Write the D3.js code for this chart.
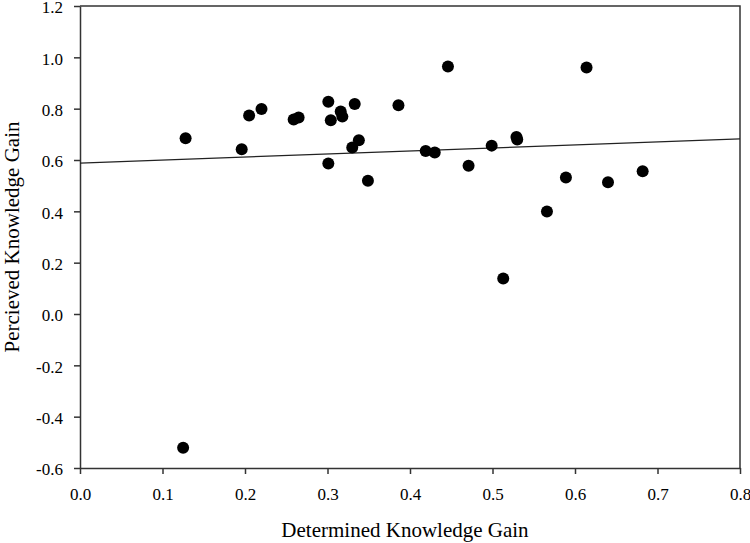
<!DOCTYPE html>
<html>
<head>
<meta charset="utf-8">
<script src="https://cdn.jsdelivr.net/npm/d3@7"></script>
<style>
  body { margin: 0; background: #fff; }
  svg { display: block; }
</style>
</head>
<body>
<script>
    // determined knowledge gain (x) vs percieved knowledge gain (y)
    const determinedGain = [0.125, 0.128, 0.196, 0.205, 0.220, 0.259, 0.265, 0.301, 0.301, 0.304,
        0.316, 0.318, 0.330, 0.333, 0.338, 0.349, 0.386, 0.419, 0.430, 0.446,
        0.471, 0.499, 0.513, 0.529, 0.530, 0.566, 0.589, 0.614, 0.640, 0.682];
    const percievedGain = [-0.521, 0.685, 0.642, 0.773, 0.799, 0.758, 0.766, 0.586, 0.827, 0.755,
        0.789, 0.769, 0.649, 0.818, 0.677, 0.519, 0.813, 0.635, 0.629, 0.964,
        0.578, 0.656, 0.138, 0.690, 0.680, 0.399, 0.532, 0.960, 0.513, 0.556];

    // fitted regression line
    const fitIntercept = 0.588;
    const fitSlope = 0.1175;

    const xTicks = [0.0, 0.1, 0.2, 0.3, 0.4, 0.5, 0.6, 0.7, 0.8];
    const yTicks = [-0.6, -0.4, -0.2, 0.0, 0.2, 0.4, 0.6, 0.8, 1.0, 1.2];

    const svgWidth = 750, svgHeight = 543;
    const plotLeft = 80, plotRight = 740, plotTop = 6, plotBottom = 468;
    const axisColor = "#333";
    const font = "'Liberation Serif', 'Times New Roman', serif";

    const svg = d3.select("body")
        .append("svg")
        .attr("width", svgWidth)
        .attr("height", svgHeight);

    const xScale = d3.scaleLinear().domain([0, 0.8]).range([plotLeft, plotRight]);
    const yScale = d3.scaleLinear().domain([-0.6, 1.2]).range([plotBottom, plotTop]);

    // frame on top and right
    svg.append("path")
        .attr("d", `M${plotLeft},${plotTop}H${plotRight}V${plotBottom}`)
        .attr("fill", "none")
        .attr("stroke", axisColor)
        .attr("stroke-width", 1.5);

    const xAxis = svg.append("g")
        .attr("transform", `translate(0,${plotBottom})`)
        .call(d3.axisBottom(xScale).tickValues(xTicks).tickFormat(d3.format(".1f")).tickSizeInner(6).tickSizeOuter(0).tickPadding(14));

    const yAxis = svg.append("g")
        .attr("transform", `translate(${plotLeft},0)`)
        .call(d3.axisLeft(yScale).tickValues(yTicks).tickFormat(d => d.toFixed(1)).tickSizeInner(6).tickSizeOuter(0).tickPadding(11));

    [xAxis, yAxis].forEach(g => {
        g.select(".domain").attr("stroke", axisColor).attr("stroke-width", 1.5);
        g.selectAll(".tick line").attr("stroke", axisColor).attr("stroke-width", 1.5);
        g.selectAll(".tick text")
            .attr("fill", "#000")
            .style("font-family", font)
            .style("font-size", "17px");
    });
    yAxis.selectAll(".tick text").attr("dy", "0.4em");

    // regression line
    svg.append("line")
        .attr("x1", xScale(0))
        .attr("y1", yScale(fitIntercept))
        .attr("x2", xScale(0.8))
        .attr("y2", yScale(fitIntercept + fitSlope * 0.8))
        .attr("stroke", "#222")
        .attr("stroke-width", 1.3);

    svg.selectAll("circle")
        .data(determinedGain.map((x, i) => ({ x: x, y: percievedGain[i] })))
        .enter()
        .append("circle")
        .attr("cx", d => xScale(d.x))
        .attr("cy", d => yScale(d.y))
        .attr("r", 6)
        .attr("fill", "#000");

    svg.append("text")
        .attr("x", 405)
        .attr("y", 537)
        .attr("text-anchor", "middle")
        .style("font-family", font)
        .style("font-size", "21px")
        .text("Determined Knowledge Gain");

    svg.append("text")
        .attr("transform", `translate(19,${(plotTop + plotBottom) / 2}) rotate(-90)`)
        .attr("text-anchor", "middle")
        .style("font-family", font)
        .style("font-size", "21px")
        .text("Percieved Knowledge Gain");
</script>
</body>
</html>
